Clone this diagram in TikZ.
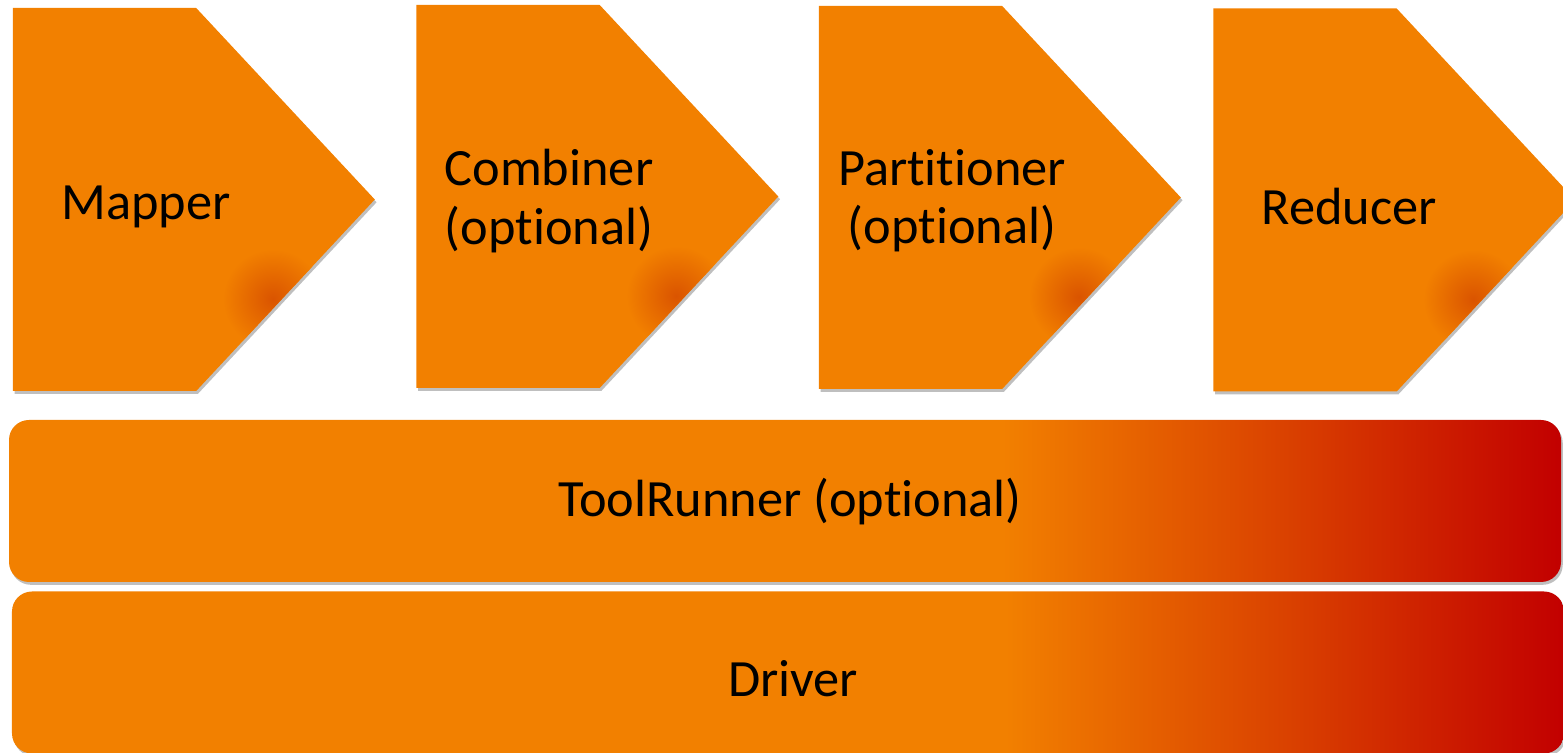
\documentclass[tikz,border=0pt]{standalone}
\usepackage{fontspec}
\setmainfont{Carlito}[Ligatures=NoCommon]
\usetikzlibrary{positioning}
\usetikzlibrary{shapes.symbols,shadows,calc}
\definecolor{stageOrange}{RGB}{242,128,0}
\definecolor{stageSpot}{RGB}{218,84,0}
\definecolor{stageMid}{RGB}{218,66,0}
\definecolor{stageRed}{RGB}{194,0,0}
\pgfdeclarehorizontalshading{barShading}{100bp}{color(0bp)=(stageOrange); color(25bp)=(stageOrange); color(57bp)=(stageOrange); color(66bp)=(stageMid); color(75bp)=(stageRed); color(100bp)=(stageRed)}
\pgfdeclareradialshading{spotShading}{\pgfpoint{0bp}{0bp}}{color(0bp)=(stageSpot); color(25bp)=(stageOrange); color(50bp)=(stageOrange)}
\tikzset{
    stage/.style={
		shape=signal, signal to=east, signal from=nowhere, signal pointer angle=94,
		fill=stageOrange, minimum width=3.62cm, minimum height=3.83cm, inner sep=0pt,
		drop shadow={opacity=0.5, shadow xshift=0.5pt, shadow yshift=-0.8pt},
		path picture={
			\coordinate (spot) at ($(path picture bounding box.south east)+(-1.02,0.92)$);
			\shade[shading=spotShading] (spot) circle (0.5);}
	}
}
\tikzset{
    stageText/.style={font=\fontsize{14.9pt}{16.6pt}\selectfont, align=center, text=black}
}
\tikzset{
    bar/.style={
		shade, shading=barShading, rounded corners=0.2cm, minimum height=1.62cm,
		drop shadow={opacity=0.5, shadow xshift=0.5pt, shadow yshift=-0.8pt}
	}
}

\begin{document}
\begin{tikzpicture}
	\useasboundingbox (0,0) rectangle (15.63,7.53);
	% top row
	\node[stage] (mapper) at (1.045,5.535) {};
	\node[stage] (combiner) at (5.08,5.565) {};
	\node[stage] (partitioner) at (9.105,5.555) {};
	\node[stage] (reducer) at (13.05,5.53) {};
	\node[stageText] (mapperText) at (1.46,5.46) {Mapper};
	\node[stageText] (combinerText) at (5.49,5.52) {Combiner\\(optional)};
	\node[stageText] (partitionerText) at (9.52,5.52) {Partitioner\\(optional)};
	\node[stageText] (reducerText) at (13.49,5.46) {Reducer};
	% bottom bars
	\node[bar, minimum width=15.52cm] (toolrunner) at (7.85,2.52) {};
	\node[bar, minimum width=15.52cm] (driver) at (7.88,0.805) {};
	\node[stageText] (toolrunnerText) at (7.90,2.51) {ToolRunner (optional)};
	\node[stageText] (driverText) at (7.93,0.74) {Driver};
\end{tikzpicture}
\end{document}
